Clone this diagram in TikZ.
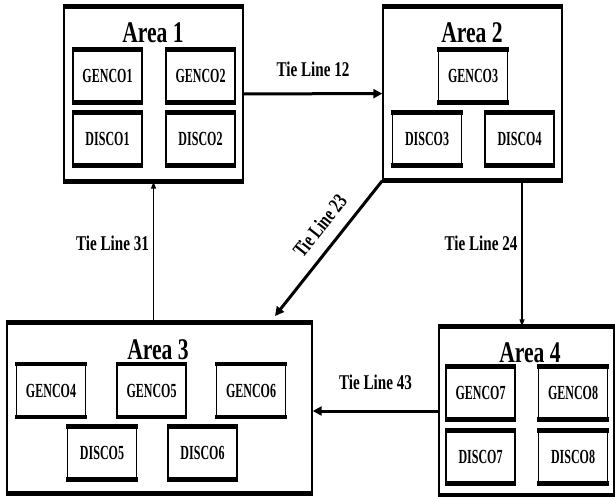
\documentclass[tikz,border=0pt]{standalone}
\usepackage{fontspec}
\newfontfamily\narrowserif{Liberation Serif}[FakeStretch=0.72]
\newfontfamily\tightserif{Liberation Serif}[FakeStretch=0.6]
\usetikzlibrary{arrows.meta}
\tikzset{
  areabox/.style={draw,line width=1.4pt,inner sep=0pt,
    append after command={(\tikzlastnode.north west) edge[line width=5pt,shorten <=-0.7pt,shorten >=-0.7pt] (\tikzlastnode.north east)
      (\tikzlastnode.south west) edge[line width=5pt,shorten <=-0.7pt,shorten >=-0.7pt] (\tikzlastnode.south east)}},
  unitbox/.style={draw,line width=1.2pt,inner sep=0pt,minimum width=69pt,minimum height=52pt,
    font=\tightserif\bfseries\fontsize{20}{20}\selectfont,
    append after command={(\tikzlastnode.north west) edge[line width=4.5pt,shorten <=-0.6pt,shorten >=-0.6pt] (\tikzlastnode.north east)
      (\tikzlastnode.south west) edge[line width=4.5pt,shorten <=-0.6pt,shorten >=-0.6pt] (\tikzlastnode.south east)}},
  areatitle/.style={font=\narrowserif\bfseries\fontsize{30}{30}\selectfont,inner sep=0pt},
  tielabel/.style={font=\narrowserif\bfseries\fontsize{21}{21}\selectfont,inner sep=2pt},
  tiethick/.style={line width=3pt,-{Triangle[length=9pt,width=9pt]}},
  tiethin/.style={line width=1.2pt,-{Triangle[length=7pt,width=5pt]}}
}
\begin{document}
\begin{tikzpicture}[x=1pt,y=-1pt]
  \useasboundingbox (0,0) rectangle (615,497);
  % areas
  \node[areabox,minimum width=179pt,minimum height=174pt] (a1) at (153.5,94) {};
  \node[areabox,minimum width=179pt,minimum height=173pt] (a2) at (472.5,93.5) {};
  \node[areabox,minimum width=305pt,minimum height=170pt] (a3) at (159.5,408) {};
  \node[areabox,minimum width=175pt,minimum height=168pt] (a4) at (526.5,411) {};
  \node[areatitle] (t1) at (153,33) {Area 1};
  \node[areatitle] (t2) at (472,33) {Area 2};
  \node[areatitle] (t3) at (158,350) {Area 3};
  \node[areatitle] (t4) at (530,353) {Area 4};
  % Area 1 units
  \node[unitbox] (g1) at (107.5,76) {GENCO1};
  \node[unitbox] (g2) at (200.5,76) {GENCO2};
  \node[unitbox] (d1) at (107.5,139) {DISCO1};
  \node[unitbox] (d2) at (200.5,139) {DISCO2};
  % Area 2 units
  \node[unitbox] (g3) at (473,76) {GENCO3};
  \node[unitbox] (d3) at (427,139) {DISCO3};
  \node[unitbox] (d4) at (519.5,139) {DISCO4};
  % Area 3 units
  \node[unitbox] (g4) at (51,390.5) {GENCO4};
  \node[unitbox] (g5) at (151.5,390.5) {GENCO5};
  \node[unitbox] (g6) at (251,390.5) {GENCO6};
  \node[unitbox] (d5) at (102,453) {DISCO5};
  \node[unitbox] (d6) at (202.5,453) {DISCO6};
  % Area 4 units
  \node[unitbox] (g7) at (480.5,393) {GENCO7};
  \node[unitbox] (g8) at (573,393) {GENCO8};
  \node[unitbox] (d7) at (480.5,457) {DISCO7};
  \node[unitbox] (d8) at (573,457) {DISCO8};
  % tie lines
  \coordinate (c23) at (275,316);
  \draw[tiethick] (a1) -- node[tielabel,above=14pt] (l12) {Tie Line 12} (a2);
  \draw[tiethick] (a2.south west) -- node[tielabel,pos=.43,sloped,above=10pt] (l23) {Tie Line 23} (c23);
  \draw[tiethin] ([xshift=49.5pt]a2.south) -- node[tielabel,left=2pt,yshift=10pt] (l24) {Tie Line 24} ([xshift=49.5pt]a2.south |- a4.north);
  \draw[tiethick] (a4.west) -- node[tielabel,above=18pt] (l43) {Tie Line 43} (a4.west -| a3.east);
  \draw[tiethin] (a3.north -| a1.south) -- node[tielabel,left=2pt,yshift=9pt] (l31) {Tie Line 31} (a1.south);
\end{tikzpicture}
\end{document}
